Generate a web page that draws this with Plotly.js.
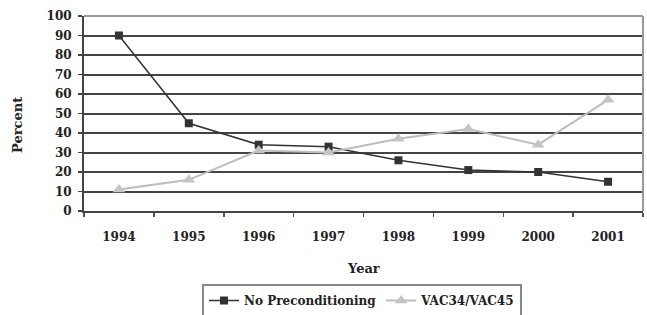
<!DOCTYPE html>
<html>
<head>
<meta charset="utf-8">
<script src="https://cdn.plot.ly/plotly-3.0.1.min.js"></script>
<style>html,body{margin:0;padding:0;background:#fff;}#chart{width:647px;height:315px;}</style>
</head>
<body>
<div id="chart"></div>
<script>
const years = ['1994','1995','1996','1997','1998','1999','2000','2001'];
const noPrecond = [90, 45, 34, 33, 26, 21, 20, 15];
const vac = [11, 16, 31, 30, 37, 42, 34, 57];
const seriesNames = ['No Preconditioning', 'VAC34/VAC45'];

const F = '"DejaVu Serif", "Liberation Serif", serif';
const L = 84, R = 643, T = 16, B = 211;
const px2x = x => (x - L) / (R - L);
const px2y = y => (B - y) / (B - T);

const traces = [
  {x: years, y: noPrecond, name: seriesNames[0], type: 'scatter', mode: 'lines+markers',
   line: {color: '#333333', width: 1.5},
   marker: {symbol: 'square', size: 8, color: '#333333'}},
  {x: years, y: vac, name: seriesNames[1], type: 'scatter', mode: 'lines+markers',
   line: {color: '#bdbdbd', width: 2},
   marker: {symbol: 'triangle-up', size: 11, color: '#c4c4c4'}}
];

const layout = {
  width: 647, height: 315,
  margin: {l: L, r: 647 - R, t: T, b: 315 - B, autoexpand: false},
  paper_bgcolor: '#fff', plot_bgcolor: '#fff',
  showlegend: true,
  font: {family: F, color: '#222', size: 12, weight: 'bold'},
  xaxis: {type: 'category', range: [-0.5, 7.5], tickson: 'boundaries',
    ticks: 'outside', ticklen: 4, tickcolor: '#555', tickwidth: 1.5,
    ticklabelstandoff: 14,
    showgrid: false, showline: true, linecolor: '#444', linewidth: 2,
    tickfont: {family: F, size: 12, color: '#222', weight: 'bold'}, zeroline: false},
  yaxis: {range: [0, 100], dtick: 10, tick0: 0, ticks: 'outside', ticklen: 4,
    tickcolor: '#444', tickwidth: 1.5, ticklabelstandoff: 4,
    showgrid: true, gridcolor: '#444', gridwidth: 2,
    showline: true, linecolor: '#444', linewidth: 2, zeroline: false,
    tickfont: {family: F, size: 12, color: '#222', weight: 'bold'}},
  shapes: [
    {type: 'line', xref: 'paper', yref: 'paper', x0: 0, x1: 1, y0: 1, y1: 1, line: {color: '#999', width: 2}},
    {type: 'line', xref: 'paper', yref: 'paper', x0: 1, x1: 1, y0: 0, y1: 1, line: {color: '#999', width: 2}}
  ],
  annotations: [
    {text: 'Percent', xref: 'paper', yref: 'paper', x: px2x(17), y: px2y(125), textangle: -90,
     showarrow: false, xanchor: 'center', yanchor: 'middle', font: {family: F, size: 13, color: '#222', weight: 'bold'}},
    {text: 'Year', xref: 'paper', yref: 'paper', x: px2x(363), y: px2y(268),
     showarrow: false, xanchor: 'center', yanchor: 'middle', font: {family: F, size: 13, color: '#222', weight: 'bold'}}
  ],
  legend: {orientation: 'h', xref: 'container', yref: 'container', x: 362 / 647, y: 1 - 284 / 315, xanchor: 'center', yanchor: 'top',
    bordercolor: '#888', borderwidth: 2, bgcolor: '#fff',
    font: {family: F, size: 12, color: '#222', weight: 'bold'},
    itemwidth: 30, tracegroupgap: 0}
};

Plotly.newPlot('chart', traces, layout, {displayModeBar: false, staticPlot: true});
</script>
</body>
</html>
